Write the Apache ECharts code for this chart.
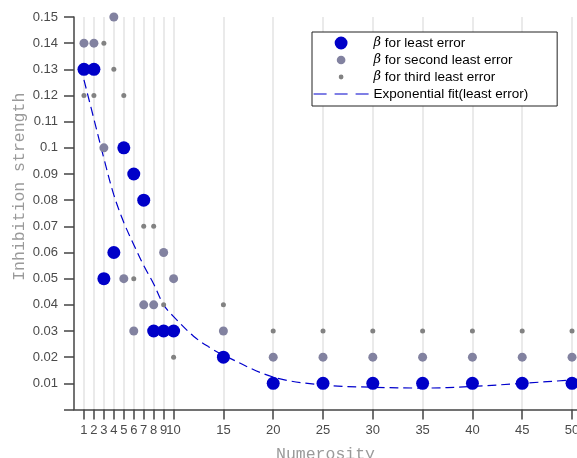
<!DOCTYPE html>
<html><head><meta charset="utf-8">
<script src="https://cdn.jsdelivr.net/npm/echarts@6/dist/echarts.min.js"></script>
<style>html,body{margin:0;padding:0;background:#fff}#c{width:577px;height:458px}</style>
</head><body><div id="c"></div>
<script>
const numerosity = [1,2,3,4,5,6,7,8,9,10,15,20,25,30,35,40,45,50];
const xTicks = [1,2,3,4,5,6,7,8,9,10,15,20,25,30,35,40,45,50];
const leastError = [0.13,0.13,0.05,0.06,0.10,0.09,0.08,0.03,0.03,0.03,0.02,0.01,0.01,0.01,0.01,0.01,0.01,0.01];
const secondLeast = [0.14,0.14,0.10,0.15,0.05,0.03,0.04,0.04,0.06,0.05,0.03,0.02,0.02,0.02,0.02,0.02,0.02,0.02];
const thirdLeast = [0.12,0.12,0.14,0.13,0.12,0.05,0.07,0.07,0.04,0.02,0.04,0.03,0.03,0.03,0.03,0.03,0.03,0.03];
const fitX = [1,2,3,4,5,6,7,8,9,10,12,13.5,15,20,25,30,35,40,45,50,50.5];
const fitY = [0.126,0.111,0.096,0.082,0.0715,0.063,0.055,0.048,0.040,0.0355,0.028,0.024,0.0208,0.0124,0.0094,0.0085,0.0082,0.0088,0.0100,0.0113,0.0115];
const names = ['β for least error','β for second least error','β for third least error','Exponential fit(least error)'];

const pairs = (xs, ys) => xs.map((x, i) => [x, ys[i]]);
const dotIcon = r => 'path://M0,0L0.01,0M100,100L100.01,100M50,' + (50 - r) + 'A' + r + ',' + r + ',0,1,1,49.99,' + (50 - r) + 'Z';

const chart = echarts.init(document.getElementById('c'), null, {renderer: 'canvas'});
chart.setOption({
  animation: false,
  backgroundColor: '#fff',
  grid: {left: 74, top: 17, right: 0, bottom: 48.5, containLabel: false, outerBoundsMode: 'none'},
  legend: {
    orient: 'vertical', left: 312, top: 32,
    padding: [4, 29, 5, 1],
    itemWidth: 55, itemHeight: 14, itemGap: 3,
    borderColor: '#222', borderWidth: 1, backgroundColor: '#fff',
    symbolKeepAspect: true,
    textStyle: {fontFamily: 'Liberation Sans', fontSize: 13.5, color: '#000',
      rich: {i: {fontFamily: 'DejaVu Serif', fontStyle: 'italic', fontSize: 13, color: '#000'}}},
    formatter: n => n.replace('β', '{i|β}'),
    data: [
      {name: names[0], icon: dotIcon(46)},
      {name: names[1], icon: dotIcon(31)},
      {name: names[2], icon: dotIcon(17)},
      {name: names[3], itemStyle: {opacity: 0}, lineStyle: {type: [13, 8], width: 1.2}}
    ]
  },
  xAxis: {
    type: 'value', min: 0, max: 50.5, interval: 5,
    name: 'Numerosity', nameLocation: 'middle', nameGap: 37, nameMoveOverlap: false,
    nameTextStyle: {fontFamily: 'Liberation Mono', fontSize: 16.5, color: '#9a9a9a'},
    axisLine: {show: true, onZero: false, lineStyle: {color: '#444', width: 1.5}},
    axisTick: {show: true, inside: false, length: 10, customValues: xTicks, lineStyle: {color: '#444', width: 1.5}},
    axisLabel: {customValues: xTicks, margin: 14, fontFamily: 'Liberation Sans', fontSize: 13, color: '#4a4a4a', hideOverlap: false},
    splitLine: {show: true, lineStyle: {color: '#e3e3e3', width: 1.5}}
  },
  yAxis: {
    type: 'value', min: 0, max: 0.15, interval: 0.01,
    name: 'Inhibition strength', nameLocation: 'middle', nameGap: 46, nameMoveOverlap: false,
    nameTextStyle: {fontFamily: 'Liberation Mono', fontSize: 16.5, color: '#9a9a9a', padding: [0, 0, 0, 53]},
    axisLine: {show: true, onZero: false, lineStyle: {color: '#444', width: 1.5}},
    axisTick: {show: true, inside: false, length: 10, lineStyle: {color: '#444', width: 1.5}},
    axisLabel: {margin: 16, fontFamily: 'Liberation Sans', fontSize: 13, color: '#4a4a4a',
      formatter: v => v === 0 ? '' : String(parseFloat(v.toFixed(2)))},
    splitLine: {show: false}
  },
  series: [
    {name: names[3], type: 'line', data: pairs(fitX, fitY), smooth: 0.35, symbol: 'none', z: 1,
     lineStyle: {color: '#0000cc', width: 1.2, type: [9, 5]}, itemStyle: {color: '#0000cc'}},
    {name: names[2], type: 'scatter', data: pairs(numerosity, thirdLeast), symbolSize: 5, clip: false, z: 2,
     itemStyle: {color: '#828282', opacity: 1}},
    {name: names[1], type: 'scatter', data: pairs(numerosity, secondLeast), symbolSize: 9, clip: false, z: 3,
     itemStyle: {color: '#8282a0', opacity: 1}},
    {name: names[0], type: 'scatter', data: pairs(numerosity, leastError), symbolSize: 13, clip: false, z: 4,
     itemStyle: {color: '#0000c8', opacity: 1}}
  ]
});
</script></body></html>
